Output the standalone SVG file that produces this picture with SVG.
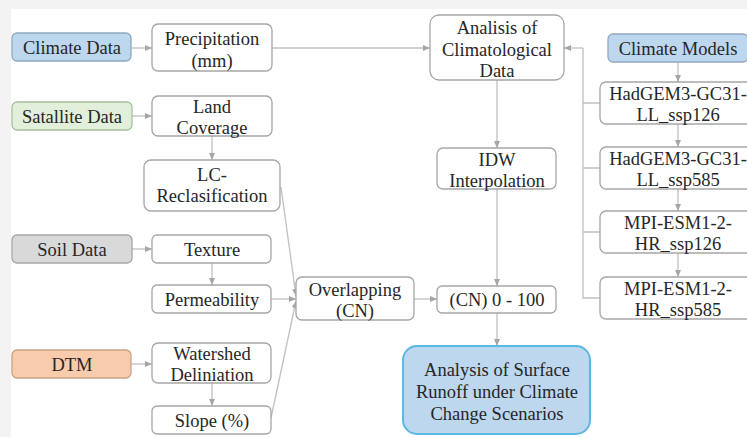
<svg xmlns="http://www.w3.org/2000/svg" width="747" height="437" viewBox="0 0 747 437">
<style>
.n{fill:#ffffff;stroke:#a6a6a6;stroke-width:1.3}
.t{font-family:'Liberation Serif','Times New Roman',serif;font-size:18.5px;fill:#262626;text-anchor:middle}
.c{fill:none;stroke:#c0c0c0;stroke-width:1.3}
.a{marker-end:url(#ar)}
</style>
<defs>
<marker id="ar" markerWidth="8" markerHeight="8" refX="7" refY="4" orient="auto" markerUnits="userSpaceOnUse">
<path d="M0,1 L7,4 L0,7 Z" fill="#a6a6a6"/>
</marker>
</defs>
<rect x="0" y="0" width="747" height="437" fill="#f3f3f3"/>
<rect x="11" y="9" width="736" height="428" fill="#ffffff"/>
<g id="connectors">
<line class="c a" x1="131" y1="48" x2="152" y2="48"/>
<line class="c a" x1="132" y1="116" x2="152" y2="116"/>
<line class="c a" x1="212" y1="136" x2="212" y2="160"/>
<line class="c a" x1="132" y1="249" x2="152" y2="249"/>
<line class="c a" x1="212" y1="263" x2="212" y2="285"/>
<line class="c a" x1="271" y1="299" x2="296" y2="299"/>
<line class="c a" x1="131" y1="364" x2="152" y2="364"/>
<line class="c a" x1="212" y1="383" x2="212" y2="406"/>
<line class="c a" x1="281" y1="187" x2="296" y2="296"/>
<line class="c a" x1="271" y1="418" x2="296" y2="301"/>
<line class="c a" x1="414" y1="299" x2="437" y2="299"/>
<line class="c a" x1="272" y1="48" x2="430" y2="48"/>
<line class="c a" x1="497" y1="80" x2="497" y2="148"/>
<line class="c a" x1="497" y1="189" x2="497" y2="286"/>
<line class="c a" x1="497" y1="313" x2="497" y2="346"/>
<line class="c a" x1="678" y1="62" x2="678" y2="82"/>
<line class="c a" x1="678" y1="124" x2="678" y2="147"/>
<line class="c a" x1="678" y1="189" x2="678" y2="211"/>
<line class="c a" x1="678" y1="253" x2="678" y2="277"/>
<path class="c" d="M600,103 H583 M600,168 H583 M600,232 H583 M600,298 H583 V48"/>
<line class="c a" x1="583" y1="48" x2="564" y2="48"/>
</g>
<g id="climate-data"><rect x="12" y="33" width="119" height="28" rx="5" fill="#bdd7ee" stroke="#8ea9c1" stroke-width="1.3"/><text class="t" x="72" y="54">Climate Data</text></g>
<g id="precipitation"><rect class="n" x="152" y="24" width="120" height="47" rx="6"/><text class="t" x="212" y="45">Precipitation</text><text class="t" x="212" y="67">(mm)</text></g>
<g id="satallite-data"><rect x="12" y="102" width="120" height="28" rx="5" fill="#e2efda" stroke="#a9c09c" stroke-width="1.3"/><text class="t" x="72" y="123">Satallite Data</text></g>
<g id="land-coverage"><rect class="n" x="152" y="96" width="120" height="40" rx="6"/><text class="t" x="212" y="113">Land</text><text class="t" x="212" y="134">Coverage</text></g>
<g id="lc-reclasification"><rect class="n" x="144" y="160" width="136" height="51" rx="7"/><text class="t" x="212" y="181">LC-</text><text class="t" x="212" y="202">Reclasification</text></g>
<g id="soil-data"><rect x="12" y="235" width="120" height="28" rx="5" fill="#d9d9d9" stroke="#a6a6a6" stroke-width="1.3"/><text class="t" x="72" y="256">Soil Data</text></g>
<g id="texture"><rect class="n" x="152" y="235" width="119" height="28" rx="5"/><text class="t" x="212" y="256">Texture</text></g>
<g id="permeability"><rect class="n" x="152" y="285" width="119" height="28" rx="5"/><text class="t" x="212" y="306">Permeability</text></g>
<g id="dtm"><rect x="12" y="350" width="119" height="28" rx="5" fill="#f8cbad" stroke="#c9a189" stroke-width="1.3"/><text class="t" x="72" y="371">DTM</text></g>
<g id="watershed"><rect class="n" x="152" y="343" width="119" height="40" rx="6"/><text class="t" x="212" y="360">Watershed</text><text class="t" x="212" y="381">Deliniation</text></g>
<g id="slope"><rect class="n" x="152" y="406" width="119" height="28" rx="5"/><text class="t" x="212" y="427">Slope (%)</text></g>
<g id="overlapping"><rect class="n" x="296" y="277" width="118" height="43" rx="6"/><text class="t" x="355" y="296">Overlapping</text><text class="t" x="355" y="317">(CN)</text></g>
<g id="cn"><rect class="n" x="437" y="286" width="119" height="27" rx="5"/><text class="t" x="497" y="306">(CN) 0 - 100</text></g>
<g id="idw"><rect class="n" x="437" y="148" width="119" height="41" rx="6"/><text class="t" x="497" y="166">IDW</text><text class="t" x="497" y="187">Interpolation</text></g>
<g id="analisis"><rect class="n" x="430" y="15" width="134" height="65" rx="9"/><text class="t" x="497" y="34">Analisis of</text><text class="t" x="497" y="56">Climatological</text><text class="t" x="497" y="77">Data</text></g>
<g id="climate-models"><rect x="608" y="34" width="140" height="28" rx="5" fill="#bdd7ee" stroke="#8ea9c1" stroke-width="1.3"/><text class="t" x="678" y="55">Climate Models</text></g>
<g id="hadgem126"><rect class="n" x="600" y="82" width="154" height="42" rx="6"/><text class="t" x="678" y="100">HadGEM3-GC31-</text><text class="t" x="678" y="121">LL_ssp126</text></g>
<g id="hadgem585"><rect class="n" x="600" y="147" width="154" height="42" rx="6"/><text class="t" x="678" y="165">HadGEM3-GC31-</text><text class="t" x="678" y="186">LL_ssp585</text></g>
<g id="mpi126"><rect class="n" x="600" y="211" width="154" height="42" rx="6"/><text class="t" x="678" y="229">MPI-ESM1-2-</text><text class="t" x="678" y="250">HR_ssp126</text></g>
<g id="mpi585"><rect class="n" x="600" y="277" width="154" height="42" rx="6"/><text class="t" x="678" y="295">MPI-ESM1-2-</text><text class="t" x="678" y="316">HR_ssp585</text></g>
<g id="surface-runoff"><rect x="403" y="346" width="187" height="88" rx="14" fill="#bdd7ee" stroke="#5bb8e3" stroke-width="2"/><text class="t" x="497" y="376">Analysis of Surface</text><text class="t" x="497" y="398">Runoff under Climate</text><text class="t" x="497" y="420">Change Scenarios</text></g>
</svg>
